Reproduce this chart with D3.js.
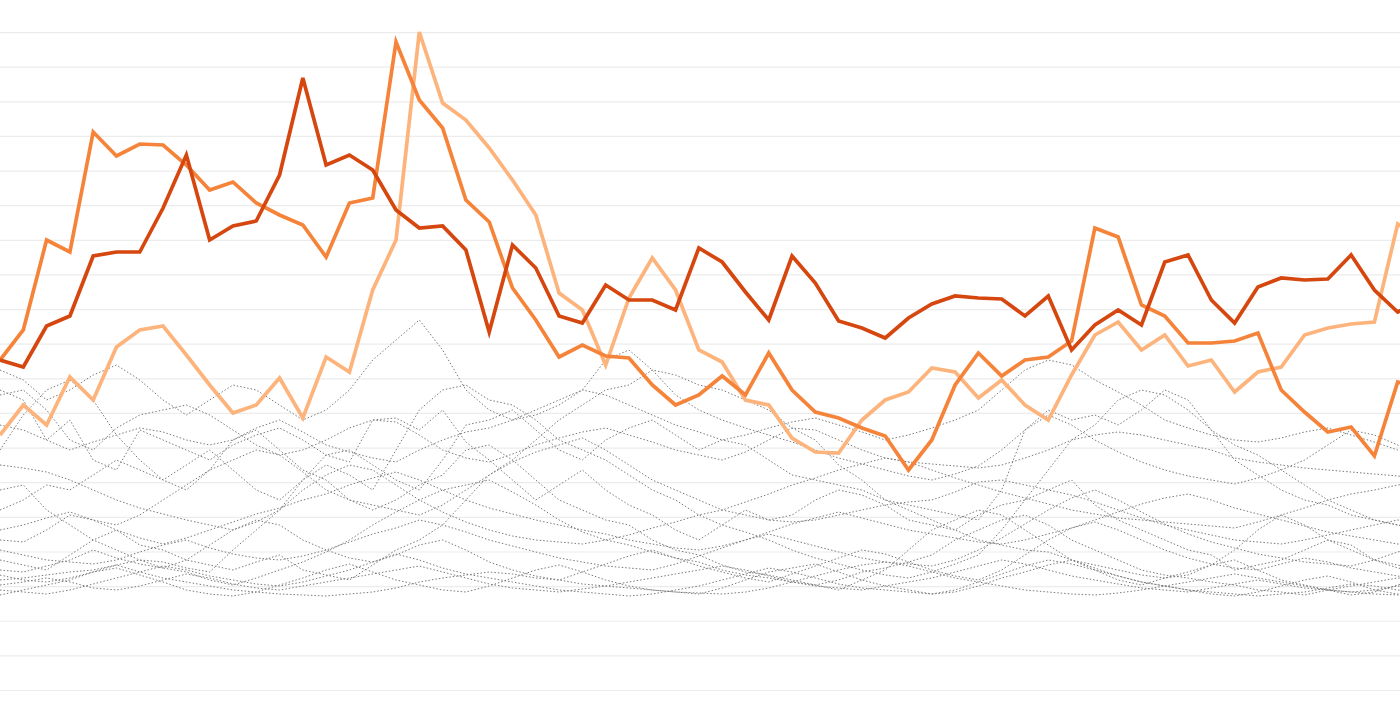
<!DOCTYPE html>
<style>
body { margin: 0; background: #fff; }
.grid line { stroke: #ececec; stroke-width: 1.2; }
.grid .domain { display: none; }
</style>
<svg width="1400" height="711"></svg>
<script src="https://d3js.org/d3.v7.min.js"></script>
<script>
// one value per period, 62 periods
var darkSeries = [330,323,364,374,434,438,438,482,535,450,464,469,515,612,525,535,520,480,462,464,440,358,445,422,374,367,405,390,390,380,442,428,398,370,434,407,369,362,352,372,386,394,392,391,374,394,340,365,380,365,428,435,390,367,403,412,410,411,435,400,378,390];
var midSeries = [330,360,450,438,558,534,546,545,525,500,508,487,475,465,433,487,492,648,590,562,490,468,402,370,333,345,334,332,305,285,295,314,295,337,300,278,272,262,254,220,250,305,337,314,330,333,349,462,453,385,374,347,347,349,357,300,278,258,263,234,308,302];
var lightSeries = [255,285,265,313,290,343,360,364,335,305,277,285,312,272,333,318,400,450,658,587,570,542,510,475,397,380,325,392,432,400,340,328,290,285,252,238,237,270,290,298,322,318,292,310,285,270,315,355,368,340,355,324,330,298,318,323,355,362,366,368,466,452];

var grayA = [300,290,250,270,230,220,260,250,240,230,245,255,262,250,235,228,270,272,260,280,248,230,210,190,205,220,200,185,175,160,150,165,180,170,175,190,200,195,185,170,165,160,175,185,190,200,210,185,170,160,150,140,135,120,125,130,140,150,145,130,125,120];
var grayB = [240,275,300,310,290,255,230,210,200,220,250,260,240,220,210,190,180,190,205,215,240,245,230,210,190,180,170,165,150,140,135,125,118,115,110,105,100,110,120,140,160,170,180,175,160,145,130,120,110,105,112,118,125,130,120,110,105,100,95,98,105,110];
var grayC = [180,190,205,200,215,230,220,210,225,240,220,200,190,210,235,240,225,210,200,230,265,270,280,260,240,230,250,262,270,255,240,250,245,230,215,210,205,200,190,185,180,175,170,200,260,280,270,275,265,280,300,290,260,230,215,200,190,185,175,170,165,160];
var grayD = [130,125,120,135,150,160,145,140,130,125,120,128,135,120,115,110,125,140,150,165,190,215,230,250,270,285,300,305,320,315,305,300,290,280,262,250,225,210,190,180,170,160,150,145,140,138,130,125,120,115,112,115,125,140,160,175,165,150,140,130,122,118];
var grayE = [115,110,108,112,118,125,130,122,118,110,105,112,120,128,138,150,165,178,190,200,205,210,198,185,170,158,150,145,138,132,128,120,115,112,108,105,110,118,122,128,135,150,160,170,175,165,150,140,130,120,115,112,108,105,100,98,95,100,104,108,112,110];
var grayF = [95,100,105,110,118,122,115,108,100,96,94,98,105,112,120,126,118,110,105,100,98,104,112,120,125,118,110,104,100,98,96,102,110,118,122,126,118,110,104,100,96,98,104,112,118,125,130,122,114,108,104,100,96,94,98,104,110,114,108,100,96,94];
var grayG = [200,205,180,165,150,140,130,128,122,118,140,160,180,210,225,215,200,240,280,300,305,290,285,270,250,240,230,215,200,190,175,165,158,150,140,132,126,120,115,112,118,126,135,160,190,220,250,265,290,300,295,280,260,245,235,220,205,190,180,170,165,160];
var grayH = [265,260,250,240,248,255,262,258,250,245,250,262,270,258,245,238,232,228,240,250,258,262,270,280,290,300,295,285,275,265,258,250,255,262,268,272,265,258,250,255,262,270,280,300,320,330,325,310,298,285,270,262,255,250,248,252,258,262,255,248,240,236];
var grayI = [150,148,160,175,170,165,175,190,205,220,230,240,235,218,200,190,185,180,175,185,200,215,228,238,245,252,240,225,210,200,190,180,175,170,168,170,175,180,185,188,190,198,208,210,205,200,195,188,180,172,165,160,155,150,148,146,150,155,160,165,170,168];
var grayJ = [110,112,115,118,120,125,118,112,108,104,100,98,96,95,94,96,98,102,108,112,115,118,116,112,110,106,104,102,100,98,97,96,98,102,108,114,120,125,128,124,118,112,108,104,100,98,96,95,97,100,104,108,112,116,112,108,104,100,98,96,95,94];
var grayK = [120,118,124,130,140,132,126,122,130,145,160,170,165,150,140,132,128,135,145,150,140,128,120,114,110,118,126,134,140,132,124,118,112,108,116,124,132,140,136,128,120,114,110,120,135,150,162,168,160,150,140,132,126,122,120,126,132,128,122,118,114,110];
var grayL = [295,300,280,250,240,262,275,280,285,275,260,245,235,240,250,262,270,268,255,240,232,228,236,245,252,258,262,255,248,240,235,230,238,250,262,260,250,240,232,228,226,224,222,225,232,240,250,255,258,255,250,245,240,232,228,225,222,220,218,216,214,212];
var grayM = [105,108,112,108,102,100,104,110,116,112,106,102,100,104,108,112,116,120,124,118,112,106,102,100,98,101,104,108,112,116,120,124,120,114,108,104,102,100,104,108,112,118,124,130,126,120,114,110,106,102,100,98,102,106,110,106,102,100,98,100,104,102];
var grayN = [225,222,218,210,200,190,182,176,170,165,160,168,180,200,215,225,220,205,190,178,168,160,154,150,148,146,150,155,162,168,175,180,188,196,205,212,220,226,232,228,220,212,205,198,192,186,180,176,172,170,168,166,164,162,168,175,182,190,196,200,205,208];
var grayO = [140,135,130,128,126,130,138,145,150,142,136,132,130,134,140,148,156,162,170,165,158,150,144,138,132,128,124,122,120,126,134,142,150,156,150,144,138,132,128,126,124,130,140,152,166,180,192,200,190,178,166,156,148,142,136,132,128,126,124,130,138,144];
var grayP = [320,310,290,300,315,325,310,290,275,290,305,300,285,270,280,300,330,350,370,340,300,280,270,275,285,300,330,340,320,295,280,270,262,255,248,240,232,226,220,214,210,216,224,240,260,275,265,250,238,228,220,214,210,206,212,220,230,245,260,255,245,235];
var grayQ = [100,98,96,100,106,112,118,124,120,114,110,106,104,108,114,120,128,136,130,122,116,112,108,104,100,98,96,94,96,100,104,110,116,122,118,112,106,102,100,98,96,100,108,116,124,130,126,120,114,108,104,100,98,96,94,96,98,102,106,104,100,98];
var grayR = [160,165,172,178,170,160,152,146,152,160,168,176,182,190,196,205,212,218,210,200,190,182,176,170,165,160,156,150,146,142,140,144,150,158,166,172,178,172,166,160,156,152,148,146,150,156,162,170,178,186,192,196,190,182,176,170,164,158,154,150,146,144];

var grays = [grayA, grayB, grayC, grayD, grayE, grayF, grayG, grayH, grayI, grayJ, grayK, grayL, grayM, grayN, grayO, grayP, grayQ, grayR];
var gridValues = d3.range(0, 20).map(function(i) { return i * 34.63; });

var svg = d3.select("svg"),
    width = +svg.attr("width"),
    height = +svg.attr("height");

// last period runs a little past the right edge
var x = d3.scaleLinear().domain([0, 61]).range([0, 1421]);
var y = d3.scaleLinear().domain([0, 658]).range([690, 32]);

svg.append("g")
    .attr("class", "grid")
    .call(d3.axisLeft(y).tickValues(gridValues).tickSize(-width).tickFormat(""));

var line = d3.line()
    .x(function(d, i) { return x(i); })
    .y(function(d) { return y(d); });

svg.append("g").selectAll("path")
    .data(grays)
    .enter().append("path")
      .attr("d", line)
      .attr("fill", "none")
      .attr("stroke", "#7a7a7a")
      .attr("stroke-width", 1)
      .attr("stroke-dasharray", "1.5,2");

var orange = [
  {values: lightSeries, color: "#fdb47c"},
  {values: midSeries, color: "#f5843a"},
  {values: darkSeries, color: "#d5470f"}
];

svg.append("g").selectAll("path")
    .data(orange)
    .enter().append("path")
      .attr("d", function(d) { return line(d.values); })
      .attr("fill", "none")
      .attr("stroke", function(d) { return d.color; })
      .attr("stroke-width", 3.7)
      .attr("stroke-linejoin", "miter");
</script>
